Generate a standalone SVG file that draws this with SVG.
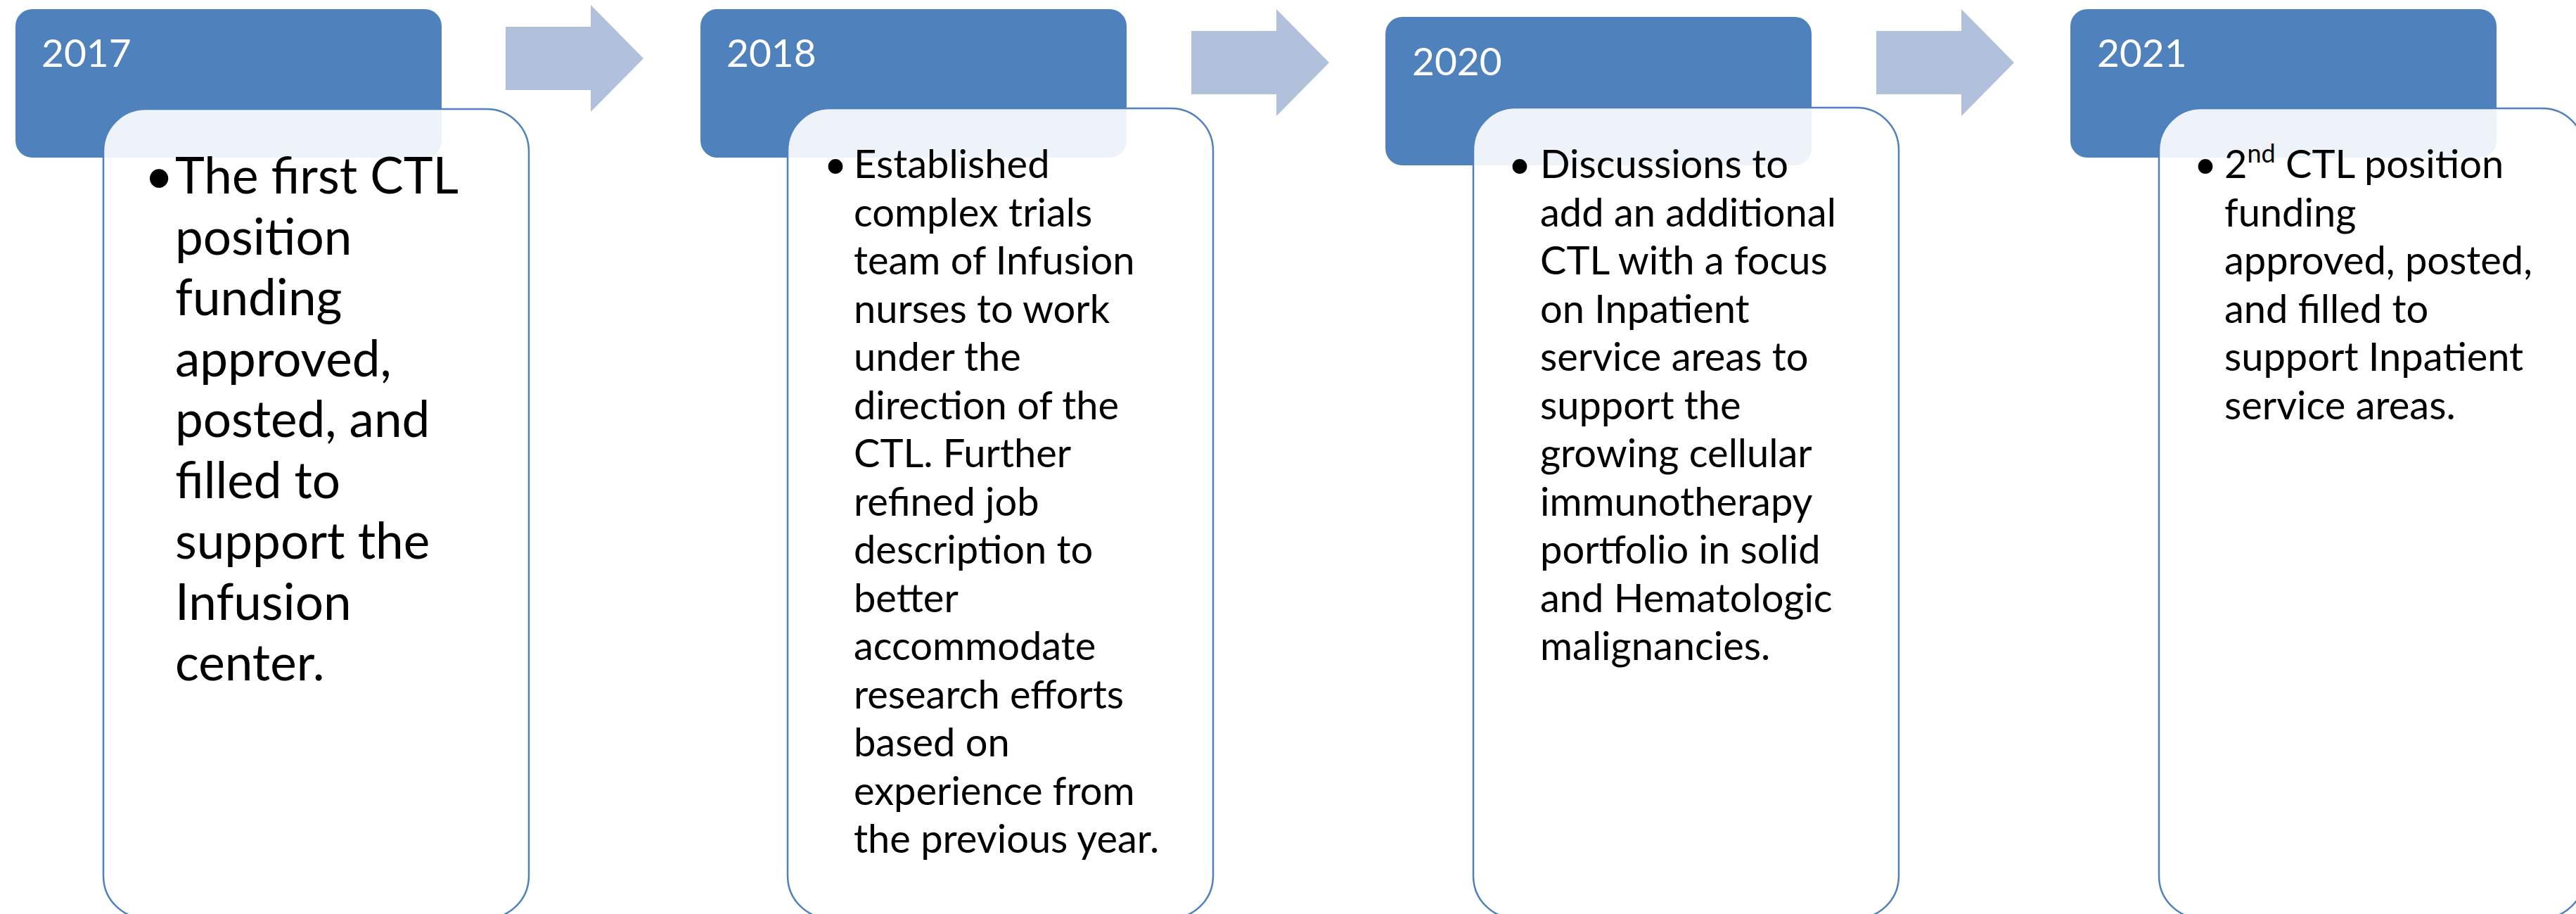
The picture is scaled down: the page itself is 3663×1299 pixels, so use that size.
<svg xmlns="http://www.w3.org/2000/svg" width="3663" height="1299" viewBox="0 0 3663 1299">
<style>
.hdr{fill:#4F81BD;}
.body{fill:#FFFFFF;fill-opacity:0.9;stroke:#4F81BD;stroke-width:2.5;}
.yr{font-family:Lato,"Liberation Sans",sans-serif;font-size:55px;fill:#FFFFFF;}
.t1{font-family:Lato,"Liberation Sans",sans-serif;font-size:71px;fill:#000000;}
.t{font-family:Lato,"Liberation Sans",sans-serif;font-size:56px;fill:#000000;}
.arrow{fill:#B1C1DC;}
</style>
<defs>
<path id="arrowShape" d="M0,-45 H121 V-76 L196,0 L121,76 V45 H0 Z"/>
</defs>
<g id="connectors">
<use href="#arrowShape" class="arrow" x="719" y="83"/>
<use href="#arrowShape" class="arrow" x="1694" y="89"/>
<use href="#arrowShape" class="arrow" x="2668" y="89"/>
</g>
<g id="node-2017">
<rect class="hdr" x="22" y="13" width="606" height="211" rx="24"/>
<text class="yr" x="59" y="95">2017</text>
<rect class="body" x="147" y="155" width="605" height="1150" rx="60"/>
<text class="t1" x="226" y="275" text-anchor="middle">•</text>
<text class="t1" x="249">
<tspan x="249" y="275">The first CTL</tspan>
<tspan x="249" y="361.5">position</tspan>
<tspan x="249" y="448">funding</tspan>
<tspan x="249" y="534.5">approved,</tspan>
<tspan x="249" y="621">posted, and</tspan>
<tspan x="249" y="707.5">filled to</tspan>
<tspan x="249" y="794">support the</tspan>
<tspan x="249" y="880.5">Infusion</tspan>
<tspan x="249" y="967">center.</tspan>
</text>
</g>
<g id="node-2018">
<rect class="hdr" x="996" y="13" width="606" height="211" rx="24"/>
<text class="yr" x="1033" y="95">2018</text>
<rect class="body" x="1120" y="154" width="605" height="1151" rx="60"/>
<text class="t" x="1188" y="253" text-anchor="middle">•</text>
<text class="t">
<tspan x="1214" y="253">Established</tspan>
<tspan x="1214" y="321.5">complex trials</tspan>
<tspan x="1214" y="390">team of Infusion</tspan>
<tspan x="1214" y="458.5">nurses to work</tspan>
<tspan x="1214" y="527">under the</tspan>
<tspan x="1214" y="595.5">direction of the</tspan>
<tspan x="1214" y="664">CTL. Further</tspan>
<tspan x="1214" y="732.5">refined job</tspan>
<tspan x="1214" y="801">description to</tspan>
<tspan x="1214" y="869.5">better</tspan>
<tspan x="1214" y="938">accommodate</tspan>
<tspan x="1214" y="1006.5">research efforts</tspan>
<tspan x="1214" y="1075">based on</tspan>
<tspan x="1214" y="1143.5">experience from</tspan>
<tspan x="1214" y="1212">the previous year.</tspan>
</text>
</g>
<g id="node-2020">
<rect class="hdr" x="1970" y="24" width="606" height="211" rx="24"/>
<text class="yr" x="2008" y="107">2020</text>
<rect class="body" x="2095" y="153" width="605" height="1152" rx="60"/>
<text class="t" x="2161" y="253" text-anchor="middle">•</text>
<text class="t">
<tspan x="2190" y="253">Discussions to</tspan>
<tspan x="2190" y="321.5">add an additional</tspan>
<tspan x="2190" y="390">CTL with a focus</tspan>
<tspan x="2190" y="458.5">on Inpatient</tspan>
<tspan x="2190" y="527">service areas to</tspan>
<tspan x="2190" y="595.5">support the</tspan>
<tspan x="2190" y="664">growing cellular</tspan>
<tspan x="2190" y="732.5">immunotherapy</tspan>
<tspan x="2190" y="801">portfolio in solid</tspan>
<tspan x="2190" y="869.5">and Hematologic</tspan>
<tspan x="2190" y="938">malignancies.</tspan>
</text>
</g>
<g id="node-2021">
<rect class="hdr" x="2944" y="13" width="606" height="211" rx="24"/>
<text class="yr" x="2982" y="95">2021</text>
<rect class="body" x="3070" y="154" width="605" height="1151" rx="60"/>
<text class="t" x="3136" y="253" text-anchor="middle">•</text>
<text class="t">
<tspan x="3163" y="253">2<tspan font-size="36px" dy="-22">nd</tspan><tspan dy="22"> CTL position</tspan></tspan>
<tspan x="3163" y="321.5">funding</tspan>
<tspan x="3163" y="390">approved, posted,</tspan>
<tspan x="3163" y="458.5">and filled to</tspan>
<tspan x="3163" y="527">support Inpatient</tspan>
<tspan x="3163" y="595.5">service areas.</tspan>
</text>
</g>
</svg>
